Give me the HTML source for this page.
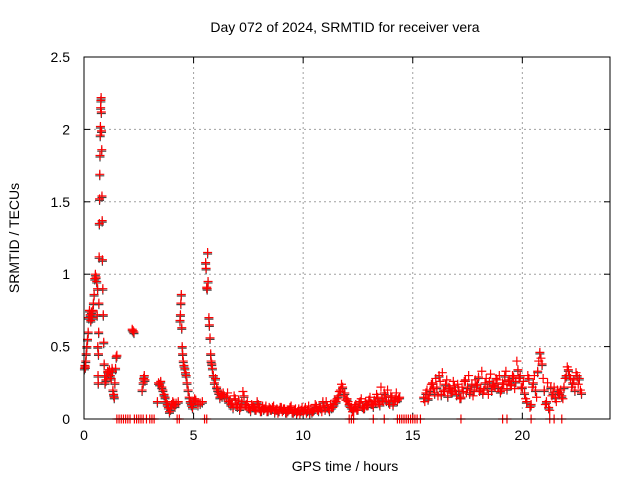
<!DOCTYPE html>
<html><head><meta charset="utf-8"><style>
body{margin:0;background:#fff;}
svg{display:block;font-family:"Liberation Sans",sans-serif;}
</style></head><body>
<svg id="chart" width="640" height="480">
<text x="345" y="32" font-size="14" text-anchor="middle" fill="#000">Day 072 of 2024, SRMTID for receiver vera</text>
<text x="345" y="471" font-size="14" text-anchor="middle" fill="#000">GPS time / hours</text>
<text transform="translate(19,238) rotate(-90)" font-size="14" text-anchor="middle" fill="#000">SRMTID / TECUs</text>
<g id="grid"></g><g id="axes"></g><g id="marks"></g>
<rect x="84" y="57" width="526" height="362" fill="none" stroke="#000" stroke-width="1"/>
</svg>
<script>
const xTicks=[0,5,10,15,20];
const yTicks=[0,0.5,1,1.5,2,2.5];
const yTickLabels=["0","0.5","1","1.5","2","2.5"];
const times=[0.02,0.04,0.06,0.08,0.1,0.13,0.16,0.19,0.22,0.25,0.28,0.31,0.34,0.37,0.4,0.43,0.46,0.49,0.52,0.55,0.58,
0.6,0.62,0.63,0.64,0.65,0.66,0.67,0.68,0.69,0.7,0.71,0.72,0.73,0.74,0.75,0.76,0.77,0.78,0.79,0.8,0.81,0.82,0.83,0.84,0.86,0.88,0.9,0.92,0.94,
0.96,1.0,1.04,1.08,1.12,1.16,1.2,1.24,1.28,1.3,1.32,1.35,1.38,1.41,1.44,1.47,1.5,
2.2,2.24,2.28,2.65,2.7,2.72,2.75,2.78,
3.35,3.4,3.45,3.5,3.55,3.6,3.65,3.7,3.75,3.8,3.85,3.9,3.95,4.0,4.05,4.1,4.15,4.2,
4.3,4.38,4.4,4.42,4.44,4.46,4.48,4.5,4.53,4.56,4.6,4.63,4.66,4.7,4.75,
4.8,4.85,4.9,4.95,5.0,5.05,5.1,5.2,5.3,5.4,
5.55,5.57,5.6,5.62,5.64,5.66,5.7,5.72,5.75,5.78,5.8,5.83,5.86,5.9,5.95,6.0,6.05,6.1,6.15,6.2,6.25,6.3,6.35,6.4,
6.5,6.6,6.7,6.8,6.9,7.0,7.1,7.2,7.3,7.4,7.5,7.6,7.7,7.8,7.9,8.0,8.1,8.2,8.3,8.4,8.5,8.6,8.7,8.8,8.9,9.0,9.1,9.2,9.3,9.4,9.5,9.6,9.7,9.8,9.9,10.0,10.1,10.2,10.3,10.4,10.5,10.6,10.7,10.8,10.9,11.0,11.1,11.2,11.3,11.4,
11.5,11.6,11.7,11.8,11.9,
12.0,12.1,12.2,12.3,12.4,12.5,12.6,12.7,12.8,12.9,13.0,13.1,13.2,13.3,13.4,13.5,13.6,13.7,13.8,13.9,14.0,14.1,14.2,14.3,14.4,
15.5,15.6,15.7,15.8,15.9,16.0,16.1,16.2,16.3,16.4,16.5,16.6,16.7,16.8,16.9,
17.0,17.1,17.2,17.3,17.4,17.5,17.6,17.7,17.8,17.9,18.0,18.1,18.2,18.3,18.4,
18.5,18.6,18.7,18.8,18.9,19.0,19.1,19.2,19.3,19.4,19.5,19.6,19.7,19.8,19.9,
20.0,20.1,20.2,20.3,20.4,20.5,20.6,20.7,20.8,20.9,21.0,21.1,21.2,21.3,21.4,
21.5,21.6,21.7,21.8,21.9,22.0,22.1,22.2,22.3,22.4,22.5,22.6,22.7];
const values=[0.35,0.37,0.36,0.4,0.45,0.5,0.55,0.6,0.7,0.75,0.72,0.68,0.74,0.7,0.75,0.8,0.86,0.97,1.0,0.98,0.95,
0.72,0.9,0.5,0.3,0.25,0.45,0.6,0.8,1.12,1.35,1.52,1.69,1.82,1.96,2.02,2.15,2.2,2.22,2.12,1.99,1.86,1.54,1.37,1.1,0.9,0.72,0.53,0.38,0.3,
0.25,0.27,0.3,0.33,0.32,0.34,0.3,0.28,0.35,0.33,0.2,0.17,0.15,0.25,0.35,0.43,0.44,
0.62,0.61,0.6,0.2,0.25,0.28,0.3,0.27,
0.12,0.25,0.24,0.26,0.22,0.2,0.17,0.15,0.12,0.1,0.08,0.05,0.07,0.1,0.12,0.11,0.09,0.11,
0.12,0.68,0.72,0.8,0.86,0.63,0.5,0.45,0.4,0.37,0.35,0.32,0.3,0.25,0.2,
0.15,0.12,0.1,0.08,0.12,0.14,0.13,0.1,0.11,0.12,
1.08,1.04,0.91,0.9,1.15,0.95,0.7,0.65,0.56,0.45,0.4,0.38,0.35,0.3,0.25,0.28,0.22,0.2,0.18,0.15,0.17,0.16,0.18,0.16,
0.15,0.12,0.1,0.08,0.14,0.09,0.07,0.12,0.16,0.1,0.08,0.06,0.09,0.07,0.12,0.08,0.06,0.07,0.09,0.06,0.07,0.08,0.05,0.07,0.06,0.08,0.07,0.05,0.06,0.08,0.05,0.06,0.04,0.07,0.06,0.05,0.08,0.06,0.04,0.05,0.07,0.09,0.06,0.08,0.12,0.07,0.09,0.06,0.08,0.1,
0.12,0.16,0.2,0.22,0.18,
0.14,0.1,0.08,0.06,0.1,0.07,0.12,0.09,0.08,0.1,0.13,0.11,0.09,0.12,0.15,0.1,0.14,0.18,0.13,0.12,0.16,0.1,0.14,0.13,0.15,
0.15,0.18,0.14,0.2,0.25,0.18,0.22,0.3,0.17,0.2,0.24,0.16,0.21,0.19,0.23,
0.17,0.2,0.15,0.19,0.27,0.22,0.18,0.24,0.2,0.23,0.29,0.21,0.18,0.25,0.22,
0.26,0.2,0.24,0.28,0.22,0.19,0.25,0.3,0.21,0.27,0.24,0.29,0.26,0.34,0.3,
0.22,0.18,0.12,0.28,0.1,0.25,0.2,0.33,0.46,0.38,0.2,0.12,0.08,0.22,0.18,
0.15,0.2,0.18,0.16,0.22,0.3,0.34,0.28,0.25,0.2,0.3,0.28,0.18];
const times2=[6.55,6.65,6.75,6.85,6.95,7.05,7.15,7.25,7.35,7.45,7.55,7.65,7.75,7.85,7.95,8.05,8.15,8.25,8.35,8.45,8.55,8.65,8.75,8.85,8.95,9.05,9.15,9.25,9.35,9.45,9.55,9.65,9.75,9.85,9.95,10.05,10.15,10.25,10.35,10.45,10.55,10.65,10.75,10.85,10.95,11.05,11.15,11.25,11.35,11.45,11.55,11.65,11.75,11.85,11.95,
12.05,12.15,12.25,12.35,12.45,12.55,12.65,12.75,12.85,12.95,13.05,13.15,13.25,13.35,13.45,13.55,13.65,13.75,13.85,13.95,14.05,14.15,14.25,14.35,
15.55,15.65,15.75,15.85,15.95,16.05,16.15,16.25,16.35,16.45,16.55,16.65,16.75,16.85,16.95,17.05,17.15,17.25,17.35,17.45,17.55,17.65,17.75,17.85,17.95,18.05,18.15,18.25,18.35,18.45,18.55,18.65,18.75,18.85,18.95,19.05,19.15,19.25,19.35,19.45,19.55,19.65,19.75,19.85,19.95,
20.05,20.15,20.25,20.35,20.45,20.55,20.65,20.75,20.85,20.95,21.05,21.15,21.25,21.35,21.45,21.55,21.65,21.75,21.85,21.95,22.05,22.15,22.25,22.35,22.45,22.55,22.65];
const values2=[0.18,0.13,0.11,0.16,0.1,0.13,0.08,0.19,0.09,0.12,0.07,0.1,0.08,0.06,0.1,0.05,0.09,0.07,0.05,0.08,0.06,0.09,0.06,0.04,0.08,0.05,0.07,0.04,0.06,0.09,0.04,0.07,0.05,0.03,0.08,0.06,0.04,0.09,0.07,0.05,0.1,0.06,0.08,0.05,0.09,0.12,0.07,0.1,0.08,0.13,0.14,0.19,0.24,0.16,0.13,
0.12,0.08,0.05,0.09,0.06,0.11,0.14,0.07,0.12,0.09,0.15,0.1,0.13,0.17,0.11,0.22,0.12,0.16,0.2,0.1,0.15,0.12,0.18,0.14,
0.12,0.2,0.16,0.24,0.21,0.28,0.16,0.26,0.32,0.19,0.27,0.22,0.18,0.26,0.2,0.24,0.14,0.22,0.26,0.18,0.3,0.2,0.16,0.27,0.24,0.19,0.33,0.2,0.28,0.17,0.31,0.23,0.22,0.27,0.3,0.2,0.24,0.33,0.26,0.23,0.3,0.21,0.4,0.28,0.22,
0.26,0.14,0.3,0.08,0.22,0.3,0.15,0.4,0.42,0.28,0.1,0.25,0.06,0.16,0.22,0.12,0.18,0.2,0.14,0.28,0.36,0.3,0.22,0.27,0.32,0.24,0.2];
const zeroTimes=[1.5,1.6,1.7,1.8,1.9,2.0,2.1,2.3,2.4,2.5,2.6,2.7,2.85,3.0,3.1,3.2,4.25,4.35,5.5,5.6,12.1,12.2,12.3,13.2,13.7,14.3,14.4,14.5,14.6,14.7,14.8,14.9,15.0,15.1,15.2,15.35,17.2,19.1,19.3,20.4,21.25,21.45,21.8];
const L=84,R=610,T=57,B=419,XMAX=24,YMAX=2.5;
const xs=t=>L+t/XMAX*(R-L), ys=v=>B-v/YMAX*(B-T);
const NS="http://www.w3.org/2000/svg";
const grid=document.getElementById('grid'),axes=document.getElementById('axes'),marks=document.getElementById('marks');
function mk(tag,a,p){const e=document.createElementNS(NS,tag);for(const k in a)e.setAttribute(k,a[k]);p.appendChild(e);return e;}
xTicks.forEach(t=>{const x=xs(t);
 if(t>0){const g=mk('line',{x1:x,x2:x,y1:T,y2:B,stroke:'#a0a0a0','stroke-dasharray':'2,3'},grid);
 
 }
 mk('line',{x1:x,x2:x,y1:B,y2:B-6,stroke:'#000'},axes);mk('line',{x1:x,x2:x,y1:T,y2:T+6,stroke:'#000'},axes);
 const tx=mk('text',{x:x,y:B+21,'font-size':14,'text-anchor':'middle'},axes);tx.textContent=String(t);
 
 });
yTicks.forEach((v,i)=>{const y=ys(v);
 if(v>0&&v<YMAX){const g=mk('line',{x1:L,x2:R,y1:y,y2:y,stroke:'#a0a0a0','stroke-dasharray':'2,3'},grid);
 
 }
 mk('line',{x1:L,x2:L+6,y1:y,y2:y,stroke:'#000'},axes);mk('line',{x1:R,x2:R-6,y1:y,y2:y,stroke:'#000'},axes);
 const tx=mk('text',{x:L-14,y:y+5,'font-size':14,'text-anchor':'end'},axes);tx.textContent=yTickLabels[i];
 
 });
function plus(x,y,c,name){const p=mk('path',{d:`M${x-4.5},${y}h9M${x},${y-4.5}v9`,stroke:c,'stroke-width':1.2,fill:'none'},marks);
 
 }
times.forEach((t,i)=>plus(xs(t),ys(values[i])+1.5,'#444','black-point'));
times.forEach((t,i)=>plus(xs(t),ys(values[i]),'#ff0000','red-point'));
times2.forEach((t,i)=>plus(xs(t),ys(values2[i]),'#ff0000','red-point'));
zeroTimes.forEach(t=>plus(xs(t),ys(0),'#ff0000','zero-point'));
</script>
</body></html>
